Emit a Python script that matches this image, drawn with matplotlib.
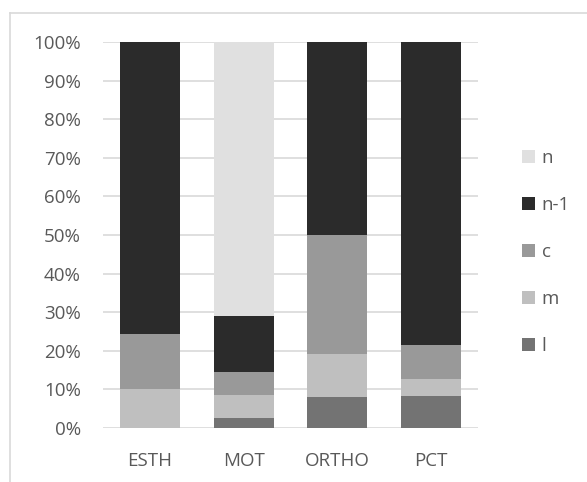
import numpy as np
import matplotlib.pyplot as plt
from matplotlib.patches import Patch
from matplotlib.lines import Line2D
from matplotlib.ticker import PercentFormatter

categories = ['ESTH', 'MOT', 'ORTHO', 'PCT']
series_names = ['l', 'm', 'c', 'n-1', 'n']
l_vals = [0.0, 2.7, 8.1, 8.3]
m_vals = [10.0, 5.8, 11.1, 4.5]
c_vals = [14.4, 6.0, 30.7, 8.7]
n1_vals = [75.6, 14.5, 50.1, 78.5]
n_vals = [0.0, 71.0, 0.0, 0.0]

colors = ['#737373', '#bfbfbf', '#999999', '#2b2b2b', '#e0e0e0']
text_color = '#595959'

plt.rcParams['font.family'] = ['Open Sans', 'DejaVu Sans']

fig = plt.figure(figsize=(5.87, 4.82), dpi=100)
ax = fig.add_axes([103/587, 54/482, 375/587, 386/482])

x = np.arange(len(categories))
bottom = np.zeros(len(categories))
handles = []
for name, vals, col in zip(series_names, [l_vals, m_vals, c_vals, n1_vals, n_vals], colors):
    ax.bar(x, vals, bottom=bottom, width=0.64, color=col, zorder=3)
    bottom += np.array(vals)
    handles.append(Patch(facecolor=col, label=name))

ax.set_xlim(-0.5, 3.5)
ax.set_ylim(0, 100)
ax.set_yticks(np.arange(0, 101, 10))
ax.yaxis.set_major_formatter(PercentFormatter(decimals=0))
ax.set_xticks(x)
ax.set_xticklabels(categories)
ax.grid(axis='y', color='#d9d9d9', linewidth=1.2, zorder=0)
for s in ax.spines.values():
    s.set_visible(False)
ax.tick_params(length=0, labelsize=13.5, colors=text_color)
ax.tick_params(axis='y', pad=16)
ax.tick_params(axis='x', pad=17)

leg = fig.legend(handles=handles[::-1], loc='center left', bbox_to_anchor=(505/587, 1 - 252/482),
                 frameon=False, fontsize=13.5, handlelength=0.7, handleheight=0.7,
                 handletextpad=0.35, labelspacing=1.55, labelcolor=text_color)

# chart area border (partly visible)
fig.add_artist(Line2D([10/587, 1], [1 - 13/482, 1 - 13/482], color='#d9d9d9', lw=1.2))
fig.add_artist(Line2D([10/587, 10/587], [0, 1 - 13/482], color='#d9d9d9', lw=1.2))

fig.savefig('out.png', dpi=100)
